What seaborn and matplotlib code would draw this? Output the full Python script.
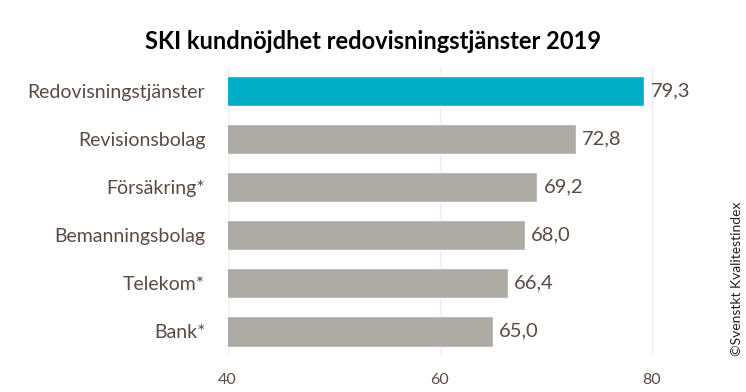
import matplotlib
matplotlib.use("Agg")
import matplotlib.pyplot as plt
import seaborn as sns
import pandas as pd

categories = ["Redovisningstjänster", "Revisionsbolag", "Försäkring*",
              "Bemanningsbolag", "Telekom*", "Bank*"]
values = [79.3, 72.8, 69.2, 68.0, 66.4, 65.0]
x_ticks = [40, 60, 80]
highlight = "Redovisningstjänster"

TEXT_COL = "#5b4a44"
TEAL = "#00afc6"
GREY = "#adaba4"

sns.set_theme(style="white")
plt.rcParams["font.family"] = ["Lato", "DejaVu Sans"]

df = pd.DataFrame({"bransch": categories, "ski": values})
palette = {c: (TEAL if c == highlight else GREY) for c in categories}

fig = plt.figure(figsize=(7.46, 3.92), dpi=100)
ax = fig.add_axes([0.305, 0.094, 0.64, 0.735])

ax.grid(axis="x", color="#ececec", linewidth=1)
ax.set_axisbelow(True)
sns.barplot(data=df, y="bransch", x="ski", hue="bransch", palette=palette,
            order=categories, width=0.64, legend=False, ax=ax, saturation=1)

ax.set_xlim(40, 85)
ax.set_xticks(x_ticks)
ax.tick_params(axis="x", labelsize=11.5, colors=TEXT_COL, length=0, pad=13)
ax.tick_params(axis="y", labelsize=14, colors=TEXT_COL, length=0, pad=16)
ax.set_xlabel("")
ax.set_ylabel("")
for s in ax.spines.values():
    s.set_visible(False)

for i, v in enumerate(values):
    ax.text(v + 0.6, i, f"{v:.1f}".replace(".", ","), va="center", ha="left",
            fontsize=14.5, color=TEXT_COL)

fig.text(0.5, 0.895, "SKI kundnöjdhet redovisningstjänster 2019", ha="center",
         va="center", fontsize=17, fontweight="bold", color="black")
fig.text(0.988, 0.29, "©Svenstkt Kvalitestindex", rotation=90, ha="center",
         va="center", fontsize=10, color="#222222")

fig.savefig("out.png", dpi=100)
